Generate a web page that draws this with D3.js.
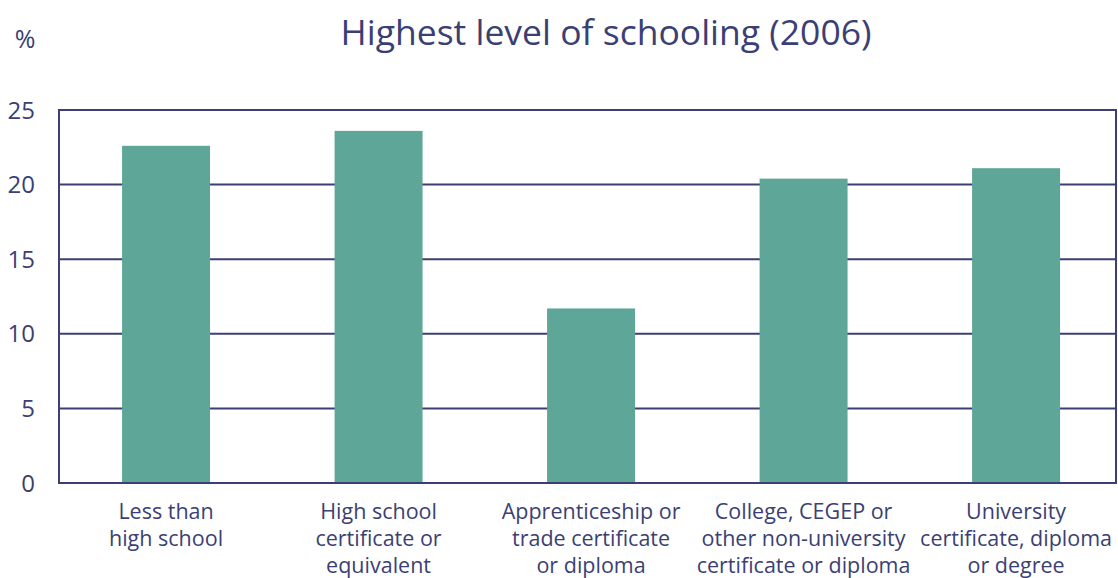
<!DOCTYPE html>
<html>
<head>
<meta charset="utf-8">
<script src="https://cdn.jsdelivr.net/npm/d3@7"></script>
<style>
  body { margin: 0; background: #fff; }
  svg { display: block; font-family: "Open Sans", "Noto Sans", sans-serif; }
</style>
</head>
<body>
<div id="chart"></div>
<script>
// Data
const categories = [
  ['Less than', 'high school'],
  ['High school', 'certificate or', 'equivalent'],
  ['Apprenticeship or', 'trade certificate', 'or diploma'],
  ['College, CEGEP or', 'other non-university', 'certificate or diploma'],
  ['University', 'certificate, diploma', 'or degree']
];
const values = [22.6, 23.6, 11.7, 20.4, 21.1];
const yTicks = [0, 5, 10, 15, 20, 25];

const width = 1118, height = 578;
const margin = { top: 110, right: 2, bottom: 95, left: 59 };
const ink = '#3b3f74';
const barColor = '#5ea798';

const svg = d3.select('#chart').append('svg')
  .attr('width', width)
  .attr('height', height);

const x = d3.scaleBand()
  .domain(d3.range(categories.length))
  .range([margin.left, width - margin.right])
  .paddingInner(0.586)
  .paddingOuter(0.28)
  .align(0.53);

const y = d3.scaleLinear()
  .domain([0, 25])
  .range([height - margin.bottom, margin.top]);

// Gridlines
svg.append('g')
  .selectAll('line')
  .data(yTicks)
  .join('line')
  .attr('x1', margin.left)
  .attr('x2', width - margin.right)
  .attr('y1', d => y(d))
  .attr('y2', d => y(d))
  .attr('stroke', ink)
  .attr('stroke-width', 2);

// Bars
svg.append('g')
  .selectAll('rect')
  .data(values)
  .join('rect')
  .attr('x', (d, i) => x(i))
  .attr('width', x.bandwidth())
  .attr('y', d => y(d))
  .attr('height', d => y(0) - y(d))
  .attr('fill', barColor);

// Frame
svg.append('rect')
  .attr('x', margin.left)
  .attr('y', y(25))
  .attr('width', width - margin.right - margin.left)
  .attr('height', y(0) - y(25))
  .attr('fill', 'none')
  .attr('stroke', ink)
  .attr('stroke-width', 2);

// Y tick labels
svg.append('g')
  .selectAll('text')
  .data(yTicks)
  .join('text')
  .attr('x', 35)
  .attr('y', d => y(d))
  .attr('dy', '0.36em')
  .attr('text-anchor', 'end')
  .attr('font-size', 24)
  .attr('fill', ink)
  .text(d => d);

// Category labels
const lab = svg.append('g')
  .selectAll('text')
  .data(categories)
  .join('text')
  .attr('x', (d, i) => x(i) + x.bandwidth() / 2)
  .attr('y', 519)
  .attr('text-anchor', 'middle')
  .attr('font-size', 21.5)
  .attr('fill', ink);

lab.selectAll('tspan')
  .data(d => d)
  .join('tspan')
  .attr('x', function () { return d3.select(this.parentNode).attr('x'); })
  .attr('dy', (d, i) => i === 0 ? 0 : 27)
  .text(d => d);

// Title and unit
svg.append('text')
  .attr('x', 606)
  .attr('y', 45)
  .attr('text-anchor', 'middle')
  .attr('font-size', 35.5)
  .attr('fill', ink)
  .text('Highest level of schooling (2006)');

svg.append('text')
  .attr('x', 25)
  .attr('y', 48)
  .attr('text-anchor', 'middle')
  .attr('font-size', 25)
  .attr('fill', ink)
  .text('%');
</script>
</body>
</html>
